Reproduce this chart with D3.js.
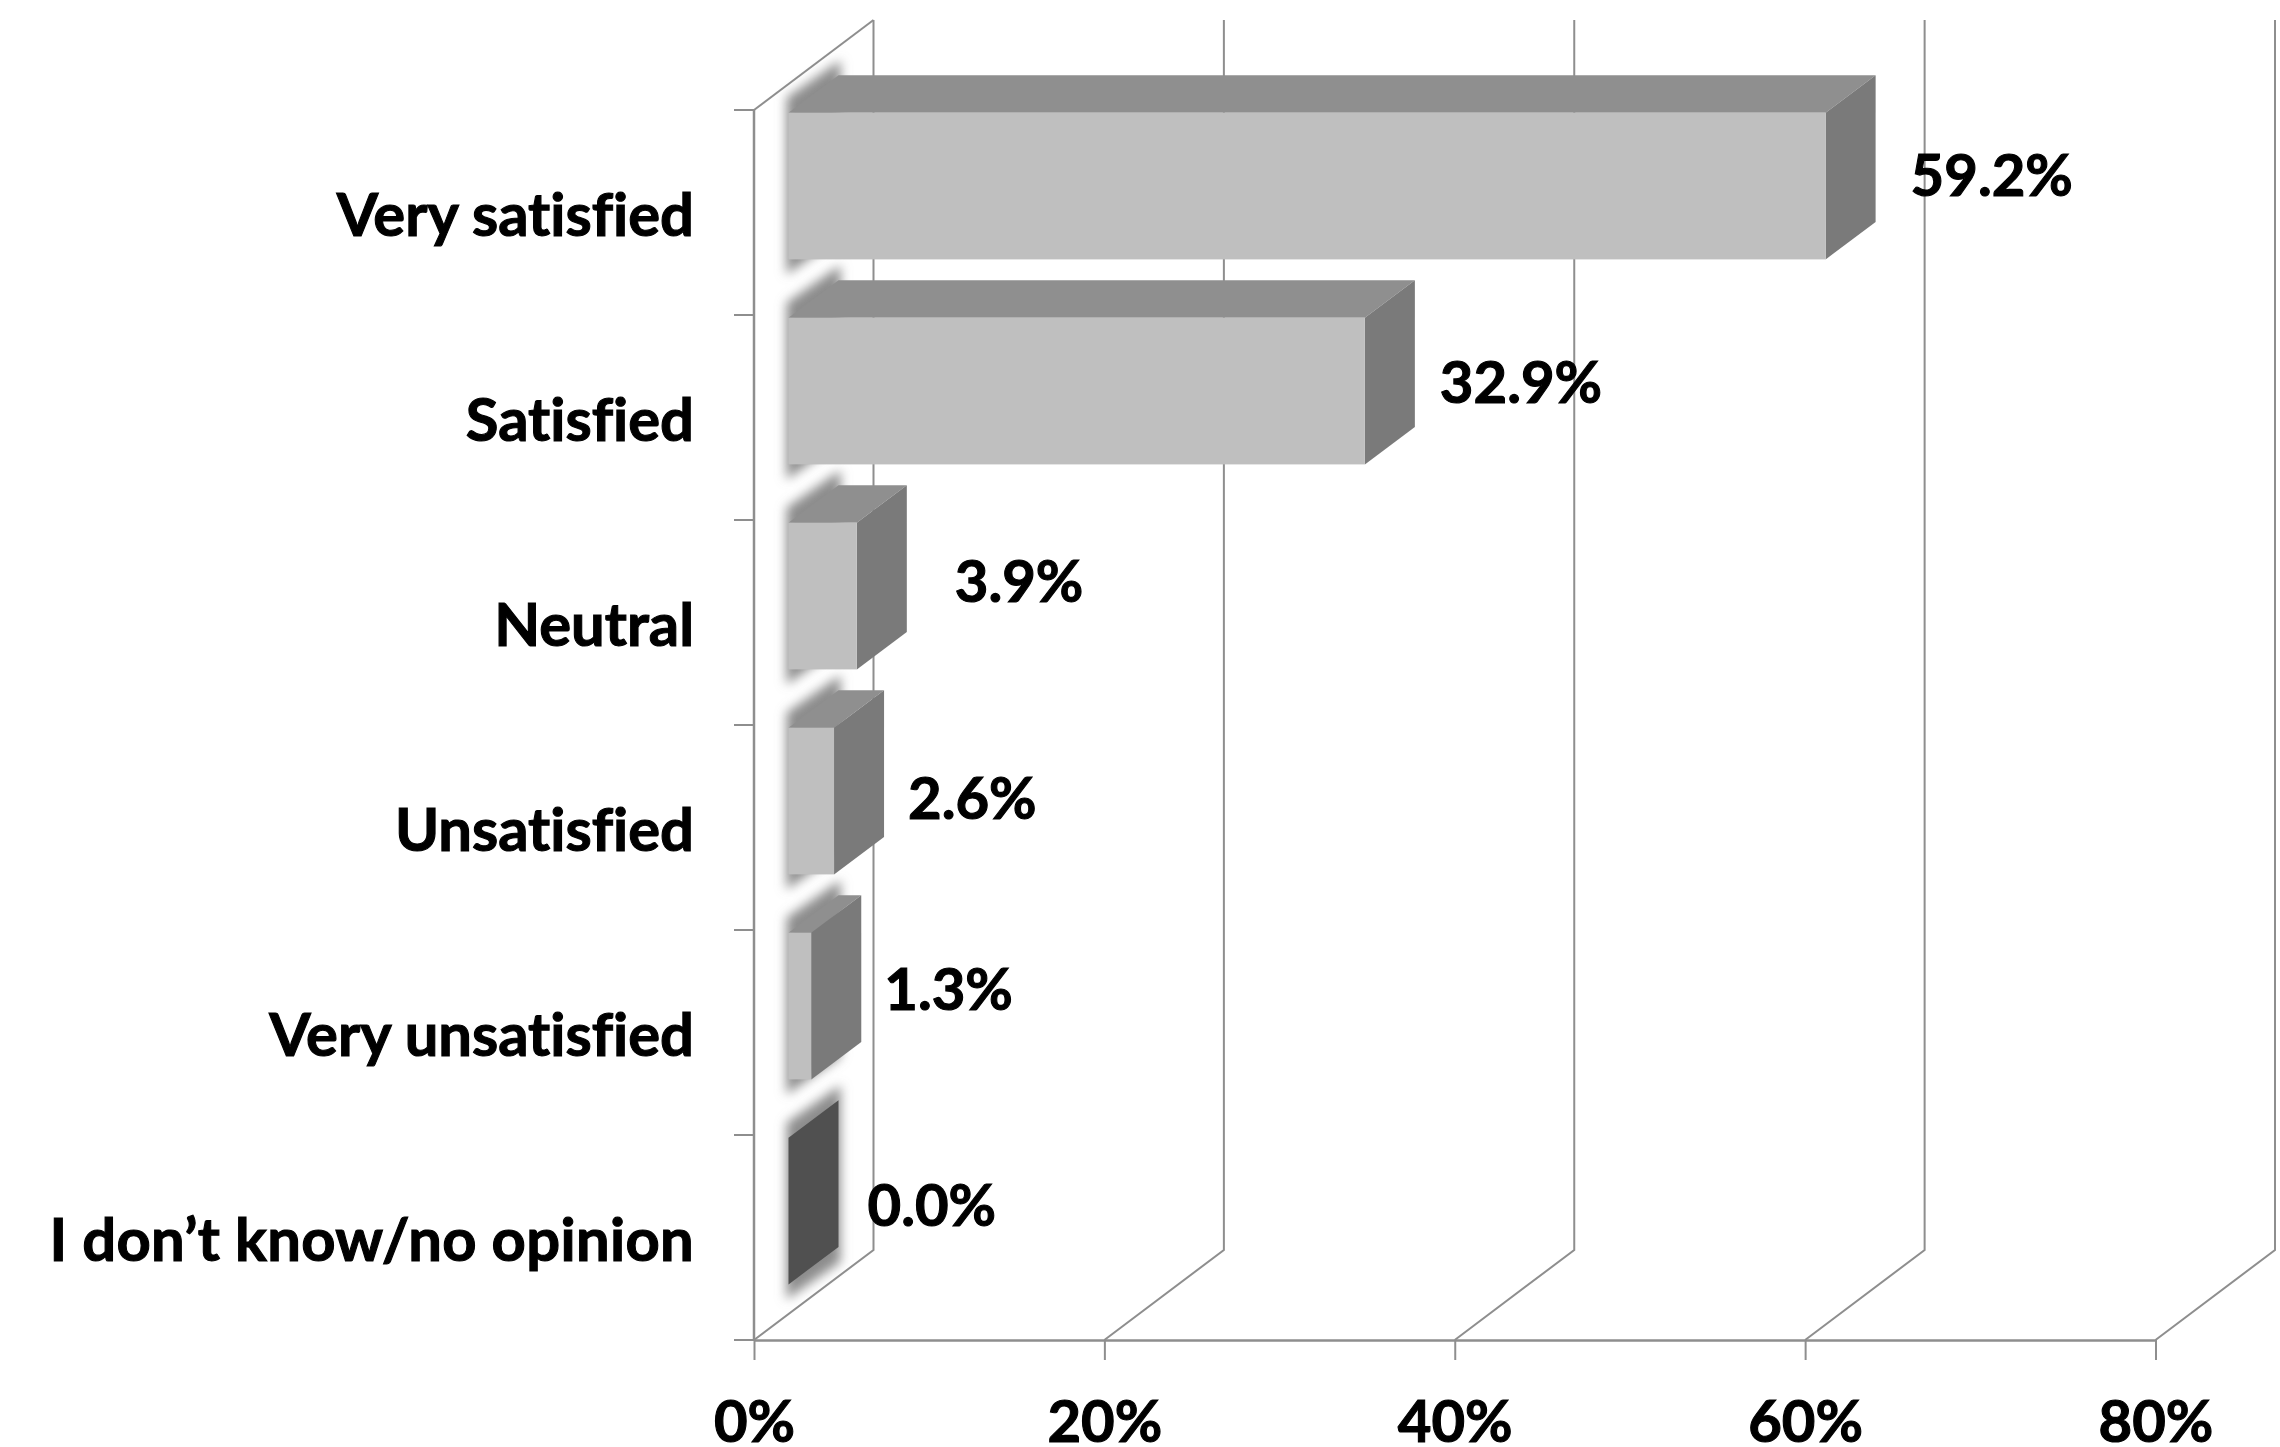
<!DOCTYPE html>
<html>
<head>
<meta charset="utf-8">
<script src="https://cdn.jsdelivr.net/npm/d3@7/dist/d3.min.js"></script>
<style>
html,body{margin:0;padding:0;background:#fff;}
svg{display:block;}
text{font-family:Lato,Carlito,"Open Sans",sans-serif;font-weight:700;fill:#000;stroke:#000;stroke-width:1.1px;font-variant-ligatures:none;}
</style>
</head>
<body>
<svg id="chart" width="2280" height="1447"></svg>
<script>
// Satisfaction survey results
const categories = ["Very satisfied","Satisfied","Neutral","Unsatisfied","Very unsatisfied","I don\u2019t know/no opinion"];
const percentages = [59.2,32.9,3.9,2.6,1.3,0.0];
const valueLabels = ["59.2%","32.9%","3.9%","2.6%","1.3%","0.0%"];
const axisTicks = [0,20,40,60,80];

// Hand-placed data label offsets from the end of each bar's front face
const labelDx = [85,75,98,74,73,79];
const labelDy = [-63,-61,-67,-55,-69,-58];
// Extra tracking for the long category name
const categoryTracking = [0,0,0,0,0,0.32];

const svg = d3.select("#chart");
const GRID = "#8e8e8e";

// Front plane of the 3D box, and how far back the rear wall sits
const plot = {left:754,right:2155.5,top:110,bottom:1340};
const wallDepth = {x:119.5,y:-90};
const barDepth = {x:50,y:-37.5};
const barInset = 34.5, barTop = 2.7, barHeight = 146.7;

const x = d3.scaleLinear().domain([0,80]).range([plot.left,plot.right]);
const y = d3.scaleBand().domain(categories).range([plot.top,plot.bottom]);

const defs = svg.append("defs");
defs.append("filter").attr("id","soft")
  .attr("x","-40%").attr("y","-40%").attr("width","180%").attr("height","180%")
  .append("feGaussianBlur").attr("stdDeviation",5.5);

const poly = pts => pts.map(p=>p.join(",")).join(" ");

// Rear wall gridlines and the floor diagonals leading to them
const walls = svg.append("g").attr("fill","none").attr("stroke",GRID).attr("stroke-width",2);
axisTicks.forEach(t=>{
  walls.append("polyline").attr("points",poly([
    [x(t),plot.bottom],
    [x(t)+wallDepth.x,plot.bottom+wallDepth.y],
    [x(t)+wallDepth.x,plot.top+wallDepth.y]
  ]));
});
walls.append("line")
  .attr("x1",plot.left).attr("y1",plot.top)
  .attr("x2",plot.left+wallDepth.x).attr("y2",plot.top+wallDepth.y);

// Value axis along the floor
const xAxis = svg.append("g").attr("transform",`translate(0,${plot.bottom})`)
  .call(d3.axisBottom(x).tickValues(axisTicks).tickSize(20).tickSizeOuter(0).tickFormat(d=>d+"%"));
xAxis.select(".domain").attr("stroke",GRID).attr("stroke-width",2.5);
xAxis.selectAll(".tick line").attr("stroke",GRID).attr("stroke-width",2);
xAxis.selectAll(".tick text").attr("y",0).attr("dy",0)
  .attr("transform","translate(0,102)")
  .attr("font-size",58).attr("font-family",null).style("fill","#000");

// Category axis: line, ticks at the band edges, and labels
const yAxis = svg.append("g");
yAxis.append("line").attr("x1",plot.left).attr("x2",plot.left)
  .attr("y1",plot.top).attr("y2",plot.bottom)
  .attr("stroke",GRID).attr("stroke-width",2.5);
categories.map(c=>y(c)).concat(plot.bottom).forEach(v=>{
  yAxis.append("line").attr("x1",plot.left-20).attr("x2",plot.left)
    .attr("y1",v).attr("y2",v).attr("stroke",GRID).attr("stroke-width",2);
});
svg.append("g").selectAll("text").data(categories).join("text")
  .attr("x",694)
  .attr("y",d=>y(d)+126)
  .attr("text-anchor","end")
  .attr("font-size",59.7)
  .attr("letter-spacing",(d,i)=>categoryTracking[i])
  .text(d=>d);

const rows = categories.map((c,i)=>{
  const x0 = x(0)+barInset, x1 = x(percentages[i])+barInset;
  const t = y(c)+barTop, b = t+barHeight;
  return {i,x0,x1,t,b};
});

// Blurred halo where each bar meets the wall, taller than the bar itself
const haloX = 2, haloY = 15;
svg.append("g").attr("filter","url(#soft)").selectAll("polygon").data(rows).join("polygon")
  .attr("fill","#8c8c8c")
  .attr("points",d=>poly([
    [d.x0-haloX,d.t-haloY],
    [d.x0+barDepth.x+haloX,d.t+barDepth.y-haloY],
    [d.x0+barDepth.x+haloX,d.b+barDepth.y+haloY],
    [d.x0-haloX,d.b+haloY]
  ]));

// Bars: top, side and front faces, or a flat dark panel for an empty value
const bars = svg.append("g").selectAll("g").data(rows).join("g");
bars.filter(d=>percentages[d.i]===0).append("polygon")
  .attr("fill","#505050")
  .attr("points",d=>poly([[d.x0,d.t],[d.x0+barDepth.x,d.t+barDepth.y],[d.x0+barDepth.x,d.b+barDepth.y],[d.x0,d.b]]));
const solid = bars.filter(d=>percentages[d.i]>0);
solid.append("polygon").attr("fill","#8f8f8f")
  .attr("points",d=>poly([[d.x0,d.t],[d.x0+barDepth.x,d.t+barDepth.y],[d.x1+barDepth.x,d.t+barDepth.y],[d.x1,d.t]]));
solid.append("polygon").attr("fill","#7a7a7a")
  .attr("points",d=>poly([[d.x1,d.t],[d.x1+barDepth.x,d.t+barDepth.y],[d.x1+barDepth.x,d.b+barDepth.y],[d.x1,d.b]]));
solid.append("rect").attr("fill","#bfbfbf")
  .attr("x",d=>d.x0).attr("y",d=>d.t)
  .attr("width",d=>d.x1-d.x0).attr("height",barHeight);

// Data labels
svg.append("g").selectAll("text").data(rows).join("text")
  .attr("x",d=>d.x1+labelDx[d.i])
  .attr("y",d=>d.b+labelDy[d.i])
  .attr("font-size",58)
  .text(d=>valueLabels[d.i]);
</script>
</body>
</html>
